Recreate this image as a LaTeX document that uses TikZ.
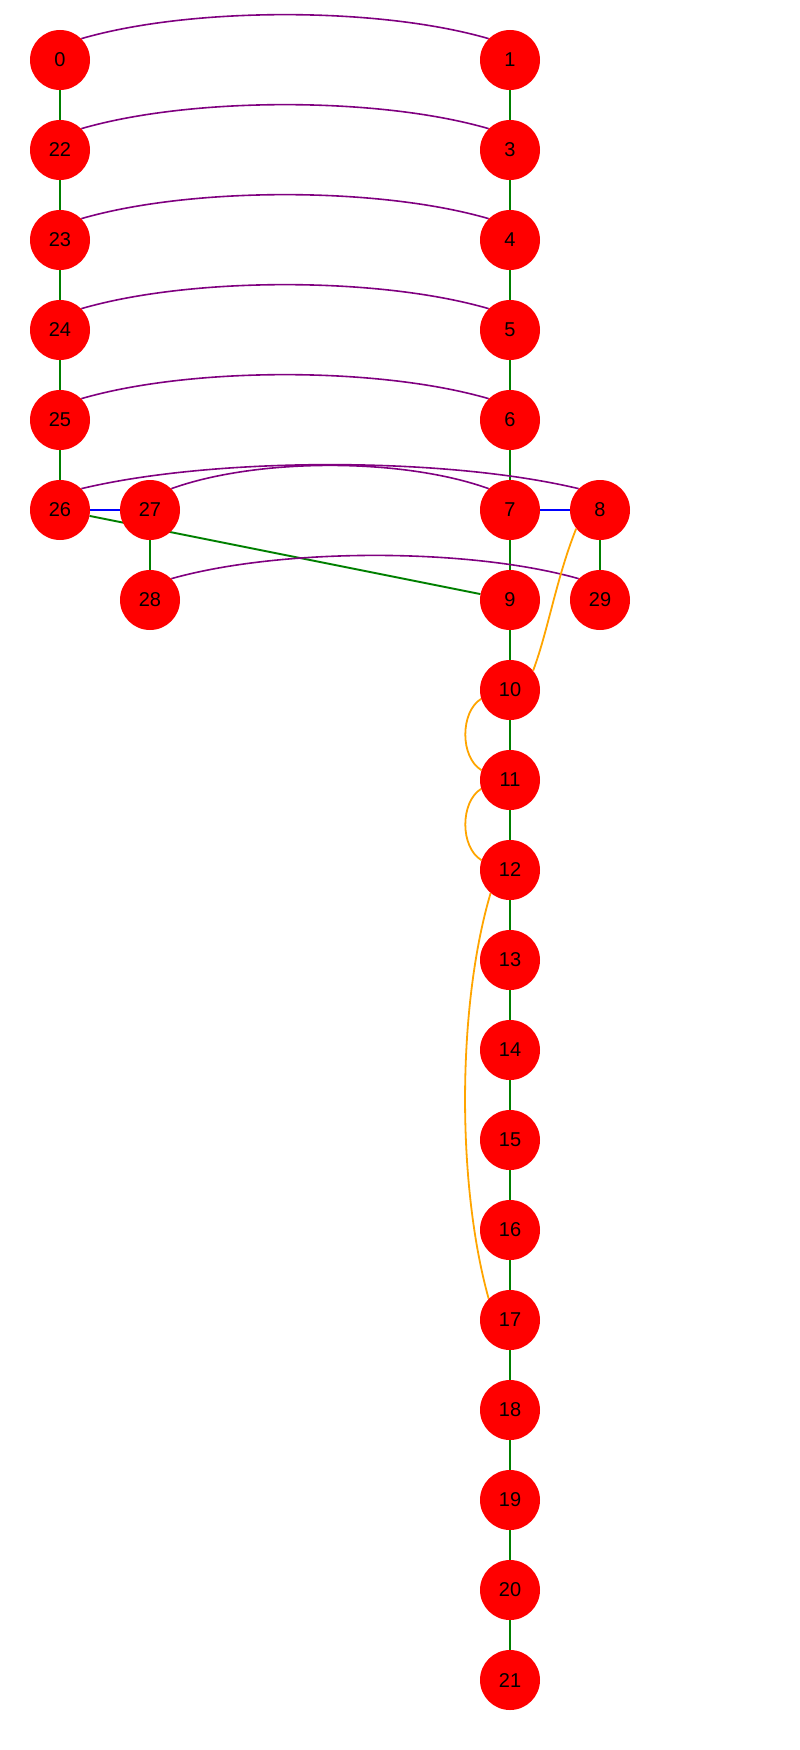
\documentclass[tikz,border=0pt]{standalone}
\usepackage{fontspec}
\setmainfont{Liberation Sans}
\usetikzlibrary{backgrounds}
\definecolor{ggreen}{RGB}{0,128,0}
\definecolor{gblue}{RGB}{0,0,255}
\definecolor{gpurple}{RGB}{128,0,128}
\definecolor{gorange}{RGB}{255,165,0}
\definecolor{gred}{RGB}{255,0,0}
\begin{document}
\begin{tikzpicture}[x=1pt,y=-1pt,
  vtx/.style={circle,fill=gred,draw=none,minimum size=60pt,inner sep=0pt,
    font=\fontsize{20}{24}\selectfont,text=black},
  ge/.style={draw=ggreen,line width=1.9pt},
  be/.style={draw=gblue,line width=1.9pt},
  pe/.style={draw=gpurple,line width=1.6pt},
  oe/.style={draw=gorange,line width=1.8pt}]
\useasboundingbox (0,0) rectangle (800,1750);
% left column
\node[vtx] (n0)  at (60,60)  {0};
\node[vtx] (n22) at (60,150) {22};
\node[vtx] (n23) at (60,240) {23};
\node[vtx] (n24) at (60,330) {24};
\node[vtx] (n25) at (60,420) {25};
\node[vtx] (n26) at (60,510) {26};
\node[vtx] (n27) at (150,510) {27};
\node[vtx] (n28) at (150,600) {28};
% right column
\node[vtx] (n1)  at (510,60)  {1};
\node[vtx] (n3)  at (510,150) {3};
\node[vtx] (n4)  at (510,240) {4};
\node[vtx] (n5)  at (510,330) {5};
\node[vtx] (n6)  at (510,420) {6};
\node[vtx] (n7)  at (510,510) {7};
\node[vtx] (n8)  at (600,510) {8};
\node[vtx] (n9)  at (510,600) {9};
\node[vtx] (n29) at (600,600) {29};
\node[vtx] (n10) at (510,690) {10};
\node[vtx] (n11) at (510,780) {11};
\node[vtx] (n12) at (510,870) {12};
\node[vtx] (n13) at (510,960) {13};
\node[vtx] (n14) at (510,1050) {14};
\node[vtx] (n15) at (510,1140) {15};
\node[vtx] (n16) at (510,1230) {16};
\node[vtx] (n17) at (510,1320) {17};
\node[vtx] (n18) at (510,1410) {18};
\node[vtx] (n19) at (510,1500) {19};
\node[vtx] (n20) at (510,1590) {20};
\node[vtx] (n21) at (510,1680) {21};
\begin{pgfonlayer}{background}
% green chain edges
\draw[ge] (n0) -- (n22);
\draw[ge] (n22) -- (n23);
\draw[ge] (n23) -- (n24);
\draw[ge] (n24) -- (n25);
\draw[ge] (n25) -- (n26);
\draw[ge] (n27) -- (n28);
\draw[ge] (n1) -- (n3);
\draw[ge] (n3) -- (n4);
\draw[ge] (n4) -- (n5);
\draw[ge] (n5) -- (n6);
\draw[ge] (n6) -- (n7);
\draw[ge] (n7) -- (n9);
\draw[ge] (n8) -- (n29);
\draw[ge] (n9) -- (n10);
\draw[ge] (n10) -- (n11);
\draw[ge] (n11) -- (n12);
\draw[ge] (n12) -- (n13);
\draw[ge] (n13) -- (n14);
\draw[ge] (n14) -- (n15);
\draw[ge] (n15) -- (n16);
\draw[ge] (n16) -- (n17);
\draw[ge] (n17) -- (n18);
\draw[ge] (n18) -- (n19);
\draw[ge] (n19) -- (n20);
\draw[ge] (n20) -- (n21);
\draw[ge] (n26) -- (n9);
% blue edges
\draw[be] (n26) -- (n27);
\draw[be] (n7) -- (n8);
% purple arcs
\draw[pe] (n0.45)  .. controls +(110,-32) and +(-110,-32) .. (n1.135);
\draw[pe] (n22.45) .. controls +(110,-32) and +(-110,-32) .. (n3.135);
\draw[pe] (n23.45) .. controls +(110,-32) and +(-110,-32) .. (n4.135);
\draw[pe] (n24.45) .. controls +(110,-32) and +(-110,-32) .. (n5.135);
\draw[pe] (n25.45) .. controls +(110,-32) and +(-110,-32) .. (n6.135);
\draw[pe] (n26.45) .. controls +(134,-32) and +(-134,-32) .. (n8.135);
\draw[pe] (n27.45) .. controls +(86,-31) and +(-86,-31) .. (n7.135);
\draw[pe] (n28.45) .. controls +(110,-31) and +(-110,-31) .. (n29.135);
% orange edges
\draw[oe] (n8.218) .. controls +(-20,50) and +(15,-40) .. (n10.40);
\draw[oe] (n10.197) .. controls +(-21,13) and +(-21.6,-13) .. (n11.161);
\draw[oe] (n11.197) .. controls +(-21,13) and +(-21.6,-13) .. (n12.161);
\draw[oe] (n12.230) .. controls +(-33.7,114) and +(-31.8,-113.8) .. (n17.135);
\end{pgfonlayer}
\end{tikzpicture}
\end{document}
